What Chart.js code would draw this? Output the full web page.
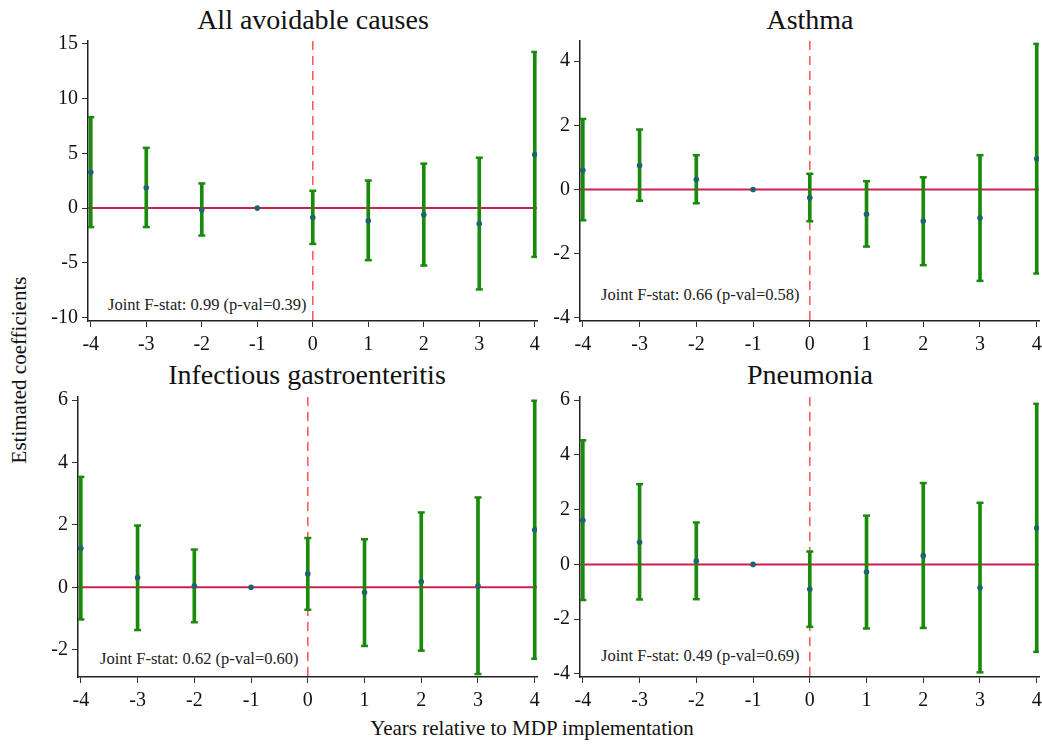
<!DOCTYPE html>
<html>
<head>
<meta charset="utf-8">
<script src="https://cdn.jsdelivr.net/npm/chart.js"></script>
<style>
  body { margin: 0; background: #fff; width: 1042px; height: 744px; overflow: hidden; position: relative; font-family: "Liberation Serif", "DejaVu Serif", serif; color: #111; }
  canvas { position: absolute; }
  .title { position: absolute; font-size: 28px; line-height: 28px; text-align: center; white-space: nowrap; }
  .fstat { position: absolute; font-size: 16.5px; line-height: 16px; white-space: nowrap; color: #222; }
  .axlab { position: absolute; font-size: 21px; line-height: 21px; white-space: nowrap; color: #111; }
</style>
</head>
<body>

<div class="title" style="left:113px; top:6px; width:400px;">All avoidable causes</div>
<div class="title" style="left:610px; top:6px; width:400px;">Asthma</div>
<div class="title" style="left:107px; top:361px; width:400px;">Infectious gastroenteritis</div>
<div class="title" style="left:610px; top:361px; width:400px;">Pneumonia</div>

<div class="fstat" style="left:108px; top:297px;">Joint F-stat: 0.99 (p-val=0.39)</div>
<div class="fstat" style="left:601px; top:287px;">Joint F-stat: 0.66 (p-val=0.58)</div>
<div class="fstat" style="left:100px; top:651px;">Joint F-stat: 0.62 (p-val=0.60)</div>
<div class="fstat" style="left:601px; top:648px;">Joint F-stat: 0.49 (p-val=0.69)</div>

<div class="axlab" style="left:532px; top:718px; transform: translateX(-50%);">Years relative to MDP implementation</div>
<div class="axlab" style="left:19px; top:370px; transform: translate(-50%,-50%) rotate(-90deg);">Estimated coefficients</div>

<canvas id="c1"></canvas>
<canvas id="c2"></canvas>
<canvas id="c3"></canvas>
<canvas id="c4"></canvas>

<script>
Chart.defaults.font.family = '"Liberation Serif", "Times New Roman", serif';

// years relative to implementation
const years = [-4, -3, -2, -1, 0, 1, 2, 3, 4];

// All avoidable causes
const allCoef  = [3.27, 1.85, -0.15, 0, -0.85, -1.15, -0.6, -1.42, 4.88];
const allLow   = [-1.73, -1.73, -2.5, null, -3.27, -4.75, -5.24, -7.42, -4.45];
const allHigh  = [8.3, 5.5, 2.25, null, 1.58, 2.52, 4.06, 4.6, 14.25];

// Asthma
const asthCoef = [0.6, 0.75, 0.31, 0, -0.26, -0.77, -0.98, -0.89, 0.96];
const asthLow  = [-0.96, -0.35, -0.43, null, -0.99, -1.78, -2.36, -2.85, -2.62];
const asthHigh = [2.2, 1.87, 1.07, null, 0.49, 0.26, 0.38, 1.07, 4.54];

// Infectious gastroenteritis
const gastCoef = [1.25, 0.31, 0.04, 0, 0.43, -0.17, 0.18, 0.04, 1.84];
const gastLow  = [-1.03, -1.37, -1.12, null, -0.72, -1.88, -2.03, -2.78, -2.29];
const gastHigh = [3.54, 1.98, 1.21, null, 1.58, 1.54, 2.4, 2.88, 5.98];

// Pneumonia
const pneuCoef = [1.61, 0.81, 0.12, 0, -0.91, -0.28, 0.32, -0.85, 1.33];
const pneuLow  = [-1.3, -1.28, -1.27, null, -2.28, -2.34, -2.32, -3.94, -3.19];
const pneuHigh = [4.53, 2.93, 1.53, null, 0.47, 1.78, 2.97, 2.25, 5.86];

const green = '#198a0c';
const dotColor = '#1f6370';
const zeroColor = '#cc1f4d';
const dashColor = '#ff5a5a';

// reference lines: y = 0 and x = 0 (treatment year)
const refLines = {
    id: 'refLines',
    beforeDatasetsDraw(chart) {
        const ctx = chart.ctx;
        const a = chart.chartArea;
        const x = chart.scales.x, y = chart.scales.y;
        ctx.save();
        ctx.strokeStyle = zeroColor;
        ctx.lineWidth = 2;
        ctx.beginPath();
        ctx.moveTo(a.left, y.getPixelForValue(0));
        ctx.lineTo(a.right, y.getPixelForValue(0));
        ctx.stroke();
        ctx.strokeStyle = dashColor;
        ctx.lineWidth = 1.6;
        ctx.setLineDash([9, 6]);
        ctx.beginPath();
        ctx.moveTo(x.getPixelForValue(0), a.top);
        ctx.lineTo(x.getPixelForValue(0), a.bottom);
        ctx.stroke();
        ctx.restore();
    }
};

function makePanel(id, areaL, areaT, areaR, areaB, coef, low, high, yMin, yMax, yStep) {
    const yW = 60, padT = 15, padR = 14, xH = 40, padB = 2;
    const cv = document.getElementById(id);
    const left = areaL - yW;
    const top = areaT - padT;
    const w = areaR + padR - left;
    const h = areaB + xH + padB - top;
    cv.style.left = left + 'px';
    cv.style.top = top + 'px';
    cv.width = w;
    cv.height = h;

    const bars = [], caps = [], dots = [];
    years.forEach((yr, i) => {
        dots.push({ x: yr, y: coef[i] });
        if (low[i] !== null) {
            bars.push({ x: yr, y: [low[i], high[i]] });
            caps.push({ x: yr, y: low[i] });
            caps.push({ x: yr, y: high[i] });
        }
    });

    const tickFont = { family: '"Liberation Serif", "Times New Roman", serif', size: 20 };

    return new Chart(cv.getContext('2d'), {
        type: 'bar',
        data: {
            datasets: [
                { type: 'bar', data: bars, backgroundColor: green, barThickness: 3, grouped: false, order: 3 },
                { type: 'scatter', data: caps, pointStyle: 'line', pointRadius: 3.5, borderColor: green, borderWidth: 2.5, order: 2 },
                { type: 'scatter', data: dots, pointStyle: 'circle', pointRadius: 2.8, backgroundColor: dotColor, borderColor: dotColor, borderWidth: 0, order: 1 }
            ]
        },
        options: {
            responsive: false,
            animation: false,
            devicePixelRatio: 1,
            layout: { padding: { top: padT, right: padR, bottom: padB, left: 0 } },
            plugins: { legend: { display: false }, tooltip: { enabled: false } },
            scales: {
                x: {
                    type: 'linear',
                    offset: false,
                    min: -4.05,
                    max: 4.04,
                    afterFit: s => { s.height = xH; },
                    grid: { display: true, offset: false, drawOnChartArea: false, drawTicks: true, tickLength: 6, color: '#333', lineWidth: 1 },
                    border: { display: true, color: '#222', width: 1.5 },
                    ticks: { stepSize: 1, includeBounds: false, font: tickFont, color: '#111', padding: 6, maxRotation: 0 }
                },
                y: {
                    type: 'linear',
                    min: yMin,
                    max: yMax,
                    afterFit: s => { s.width = yW; },
                    grid: { display: true, drawOnChartArea: false, drawTicks: true, tickLength: 6, color: '#333', lineWidth: 1 },
                    border: { display: true, color: '#222', width: 1.5 },
                    ticks: { stepSize: yStep, includeBounds: false, font: tickFont, color: '#111', padding: 4 }
                }
            }
        },
        plugins: [refLines]
    });
}

makePanel('c1', 88, 40, 537, 321, allCoef, allLow, allHigh, -10.3, 15.25, 5);
makePanel('c2', 580, 40, 1039, 321, asthCoef, asthLow, asthHigh, -4.1, 4.63, 2);
makePanel('c3', 78, 396, 537, 677, gastCoef, gastLow, gastHigh, -2.875, 6.1, 2);
makePanel('c4', 580, 396, 1039, 677, pneuCoef, pneuLow, pneuHigh, -4.11, 6.11, 2);
</script>
</body>
</html>
